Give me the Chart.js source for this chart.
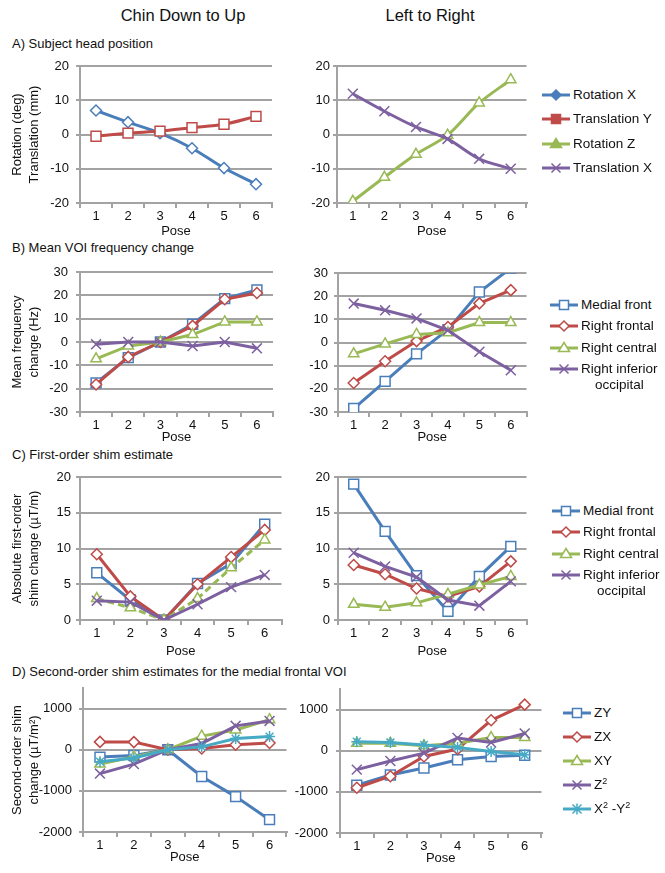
<!DOCTYPE html>
<html lang="en">
<head>
<meta charset="UTF-8">
<title>Head position and shim changes</title>
<script src="https://cdn.jsdelivr.net/npm/chart.js"></script>
<style>
  body { margin: 0; background: #fff; font-family: 'Liberation Sans', Arial, sans-serif; color: #111; }
  #page { position: relative; width: 665px; height: 873px; overflow: hidden; }
  #page canvas.chart { position: absolute; }
  .txt { position: absolute; white-space: nowrap; }
  .col-title { font-size: 16.5px; top: 6px; transform: translateX(-50%); }
  .panel-title { font-size: 13px; left: 12px; line-height: 16px; }
  .legend { position: absolute; font-size: 13.5px; }
  .legend .item { position: absolute; left: 0; white-space: nowrap; line-height: 16px; }
  .legend .item canvas { vertical-align: top; margin-top: 1px; margin-right: 3px; }
  .legend .item span { display: inline-block; vertical-align: top; text-align: center; }
  sup { font-size: 9px; vertical-align: 5px; line-height: 0; }
</style>
</head>
<body>
<div id="page">
  <div class="txt col-title" style="left:183px">Chin Down to Up</div>
  <div class="txt col-title" style="left:430px">Left to Right</div>

  <div class="txt panel-title" style="top:36px">A) Subject head position</div>
  <div class="txt panel-title" style="top:240px">B) Mean VOI frequency change</div>
  <div class="txt panel-title" style="top:447px">C) First-order shim estimate</div>
  <div class="txt panel-title" style="top:664px">D) Second-order shim estimates for the medial frontal VOI</div>

  <canvas class="chart" id="aLeft" width="290" style="left:0"></canvas>
  <canvas class="chart" id="aRight" width="245" style="left:290px"></canvas>
  <canvas class="chart" id="bLeft" width="290" style="left:0"></canvas>
  <canvas class="chart" id="bRight" width="245" style="left:290px"></canvas>
  <canvas class="chart" id="cLeft" width="290" style="left:0"></canvas>
  <canvas class="chart" id="cRight" width="245" style="left:290px"></canvas>
  <canvas class="chart" id="dLeft" width="295" style="left:0"></canvas>
  <canvas class="chart" id="dRight" width="255" style="left:295px"></canvas>

  <div class="legend" id="legA" style="left:542px;top:87px"></div>
  <div class="legend" id="legB" style="left:550px;top:297px"></div>
  <div class="legend" id="legC" style="left:552px;top:503px"></div>
  <div class="legend" id="legD" style="left:563px;top:705px"></div>
</div>

<script>
// categories
const poses = ['1', '2', '3', '4', '5', '6'];

// A) subject head position (deg / mm)
const chinRotationX = [7.0, 3.6, 0.4, -4.0, -9.8, -14.5];
const chinTranslationY = [-0.5, 0.4, 1.0, 2.0, 3.0, 5.3];
const lrRotationZ = [-19.5, -12.5, -5.8, -0.2, 9.2, 16.0];
const lrTranslationX = [11.9, 6.8, 2.2, -1.3, -7.1, -10.0];

// B) mean VOI frequency change (Hz)
const chinFreqMedial = [-17.5, -6.7, 0, 7.6, 18.6, 22.3];
const chinFreqFrontal = [-18.2, -6.4, 0, 6.9, 18.3, 21.0];
const chinFreqCentral = [-7.2, -1.7, 0, 3.2, 8.6, 8.6];
const chinFreqOccipital = [-1.0, 0, 0, -1.7, 0, -2.7];
const lrFreqMedial = [-28.5, -16.8, -4.9, 5.5, 21.8, 32.1];
const lrFreqFrontal = [-17.5, -8.1, 0.6, 6.7, 16.9, 22.6];
const lrFreqCentral = [-4.9, -0.6, 3.5, 4.2, 8.6, 8.6];
const lrFreqOccipital = [16.8, 13.9, 10.4, 5.3, -4.0, -12.0];

// C) absolute first-order shim change (uT/m)
const chinShim1Medial = [6.6, 2.8, 0, 5.1, 7.9, 13.4];
const chinShim1Frontal = [9.2, 3.3, 0, 5.0, 8.8, 12.6];
const chinShim1Central = [3.0, 1.7, 0, 3.0, 7.3, 11.2];
const chinShim1Occipital = [2.7, 2.5, 0, 2.2, 4.6, 6.3];
const lrShim1Medial = [19.0, 12.4, 6.2, 1.2, 6.1, 10.3];
const lrShim1Frontal = [7.7, 6.4, 4.4, 3.3, 4.7, 8.2];
const lrShim1Central = [2.2, 1.8, 2.4, 3.6, 4.9, 6.1];
const lrShim1Occipital = [9.4, 7.5, 6.0, 2.8, 2.0, 5.4];

// D) second-order shim change, medial frontal VOI (uT/m^2)
const shim2Ticks = [-2000, -1000, 0, 1000];
const chinZY = [-180, -140, 0, -650, -1140, -1700];
const chinZX = [190, 185, 0, 30, 120, 165];
const chinXY = [-350, -170, 0, 330, 480, 730];
const chinZ2 = [-580, -350, 0, 150, 580, 700];
const chinX2Y2 = [-290, -200, 0, 70, 270, 320];
const lrZY = [-840, -590, -420, -220, -140, -110];
const lrZX = [-900, -620, -140, 40, 740, 1120];
const lrXY = [180, 180, 120, 180, 320, 320];
const lrZ2 = [-460, -250, -60, 310, 200, 420];
const lrX2Y2 = [220, 200, 140, 80, -20, -100];

const BLUE = '#4a7ebb', RED = '#be4b48', GREEN = '#98b954', PURPLE = '#7d60a0', CYAN = '#46aac5';
const GRID = '#a3a3a3';
const FONT = "'Liberation Sans', Arial, sans-serif";
const radius = { rect: 7, rectRot: 5.5, triangle: 6, crossRot: 7, star: 5.5 };

function series(label, data, color, pointStyle, extra) {
    return Object.assign({
        label: label,
        data: data,
        borderColor: color,
        backgroundColor: color,
        borderWidth: 3,
        pointStyle: pointStyle,
        pointRadius: radius[pointStyle],
        pointBorderColor: color,
        pointBackgroundColor: '#fff',
        pointBorderWidth: 1.5,
        tension: 0
    }, extra || {});
}

function panel(id, datasets, o) {
    // later series drawn on top, like the original
    datasets.forEach((d, i) => { d.order = datasets.length - i; });

    // the y scale reserves half a label height + tick padding above the plot
    const xHeight = o.xHeight || 38;
    const topPad = Math.ceil(7.8 + o.tickPad);
    const cv = document.getElementById(id);
    cv.style.top = (o.plotTop - topPad) + 'px';
    cv.height = topPad + (o.plotBottom - o.plotTop) + xHeight;

    const yScale = {
        min: o.min,
        max: o.max,
        ticks: {
            stepSize: o.step,
            font: { family: FONT, size: 13 },
            color: '#111',
            padding: o.tickPad,
            callback: v => String(v)
        },
        grid: { color: GRID, lineWidth: 2, tickLength: 4 },
        border: { color: GRID, width: 2 },
        title: o.yTitle
            ? { display: true, text: o.yTitle, font: { family: FONT, size: 13, lineHeight: 1.3 },
                color: '#111', padding: { top: 9, bottom: 0 } }
            : { display: false },
        afterFit: s => { s.width = o.yWidth; }
    };
    if (o.tickValues) {
        yScale.afterBuildTicks = s => { s.ticks = o.tickValues.map(v => ({ value: v })); };
    }
    return new Chart(cv, {
        type: 'line',
        data: { labels: poses, datasets: datasets },
        options: {
            responsive: false,
            animation: false,
            events: [],
            layout: { padding: { top: topPad, right: o.padRight, left: 0, bottom: 0 } },
            plugins: { legend: { display: false }, tooltip: { enabled: false } },
            scales: {
                x: {
                    offset: true,
                    grid: { display: true, drawOnChartArea: false, offset: true, tickLength: 5, color: GRID, lineWidth: 2 },
                    border: { color: GRID, width: 2 },
                    ticks: { font: { family: FONT, size: 13 }, color: '#111', padding: 1, maxRotation: 0 },
                    title: { display: true, text: 'Pose', font: { family: FONT, size: 13 }, color: '#111',
                             padding: { top: 0, bottom: o.poseBottom } },
                    afterFit: s => { s.height = xHeight; }
                },
                y: yScale
            }
        }
    });
}

// A
const smooth = { tension: 0.3 };
panel('aLeft', [
    series('Rotation X', chinRotationX, BLUE, 'rectRot', smooth),
    series('Translation Y', chinTranslationY, RED, 'rect', smooth)
], { min: -20, max: 20, step: 10, plotTop: 66, plotBottom: 203, yWidth: 80, padRight: 18, tickPad: 7, poseBottom: 2,
     yTitle: ['Rotation (deg)', 'Translation (mm)'] });
panel('aRight', [
    series('Rotation Z', lrRotationZ, GREEN, 'triangle', smooth),
    series('Translation X', lrTranslationX, PURPLE, 'crossRot', smooth)
], { min: -20, max: 20, step: 10, plotTop: 66, plotBottom: 203, yWidth: 47, padRight: 6, tickPad: 3, poseBottom: 2 });

// B
panel('bLeft', [
    series('Medial front', chinFreqMedial, BLUE, 'rect'),
    series('Right frontal', chinFreqFrontal, RED, 'rectRot'),
    series('Right central', chinFreqCentral, GREEN, 'triangle'),
    series('Right inferior occipital', chinFreqOccipital, PURPLE, 'crossRot')
], { min: -30, max: 30, step: 10, plotTop: 272, plotBottom: 412, yWidth: 80, padRight: 17, tickPad: 8, poseBottom: 5,
     yTitle: ['Mean frequency', 'change (Hz)'] });
panel('bRight', [
    series('Medial front', lrFreqMedial, BLUE, 'rect'),
    series('Right frontal', lrFreqFrontal, RED, 'rectRot'),
    series('Right central', lrFreqCentral, GREEN, 'triangle'),
    series('Right inferior occipital', lrFreqOccipital, PURPLE, 'crossRot')
], { min: -30, max: 30, step: 10, plotTop: 273, plotBottom: 412, yWidth: 48, padRight: 5, tickPad: 6, poseBottom: 5 });

// C
panel('cLeft', [
    series('Medial front', chinShim1Medial, BLUE, 'rect'),
    series('Right frontal', chinShim1Frontal, RED, 'rectRot'),
    series('Right central', chinShim1Central, GREEN, 'triangle', { borderDash: [7, 4] }),
    series('Right inferior occipital', chinShim1Occipital, PURPLE, 'crossRot')
], { min: 0, max: 20, step: 5, plotTop: 477, plotBottom: 620, yWidth: 80, padRight: 8, tickPad: 5, poseBottom: 1, xHeight: 40,
     yTitle: ['Absolute first-order', 'shim change (\u00b5T/m)'] });
panel('cRight', [
    series('Medial front', lrShim1Medial, BLUE, 'rect'),
    series('Right frontal', lrShim1Frontal, RED, 'rectRot'),
    series('Right central', lrShim1Central, GREEN, 'triangle'),
    series('Right inferior occipital', lrShim1Occipital, PURPLE, 'crossRot')
], { min: 0, max: 20, step: 5, plotTop: 477, plotBottom: 620, yWidth: 48, padRight: 6, tickPad: 4, poseBottom: 1, xHeight: 40 });

// D
panel('dLeft', [
    series('ZY', chinZY, BLUE, 'rect'),
    series('ZX', chinZX, RED, 'rectRot'),
    series('XY', chinXY, GREEN, 'triangle'),
    series('Z\u00b2', chinZ2, PURPLE, 'crossRot'),
    series('X\u00b2 -Y\u00b2', chinX2Y2, CYAN, 'star')
], { min: -2000, max: 1500, step: 1000, tickValues: shim2Ticks, plotTop: 688, plotBottom: 832, yWidth: 83, padRight: 8,
     tickPad: 7, poseBottom: 5, yTitle: ['Second-order shim', 'change (\u00b5T/m\u00b2)'] });
panel('dRight', [
    series('ZY', lrZY, BLUE, 'rect'),
    series('ZX', lrZX, RED, 'rectRot'),
    series('XY', lrXY, GREEN, 'triangle'),
    series('Z\u00b2', lrZ2, PURPLE, 'crossRot'),
    series('X\u00b2 -Y\u00b2', lrX2Y2, CYAN, 'star')
], { min: -2000, max: 1500, step: 1000, tickValues: shim2Ticks, plotTop: 689, plotBottom: 833, yWidth: 45, padRight: 6,
     tickPad: 8, poseBottom: 5 });

// legends: small line + marker icon, then the label
function drawIcon(cv, color, style, filled) {
    const ctx = cv.getContext('2d');
    const w = cv.width, cy = cv.height / 2, cx = w / 2;
    ctx.strokeStyle = color;
    ctx.lineWidth = 3;
    ctx.beginPath(); ctx.moveTo(0, cy); ctx.lineTo(w, cy); ctx.stroke();
    ctx.lineWidth = 1.5;
    ctx.fillStyle = filled ? color : '#fff';
    ctx.beginPath();
    if (style === 'rect') {
        ctx.rect(cx - 4.5, cy - 4.5, 9, 9);
    } else if (style === 'rectRot') {
        ctx.moveTo(cx, cy - 5); ctx.lineTo(cx + 5, cy); ctx.lineTo(cx, cy + 5); ctx.lineTo(cx - 5, cy); ctx.closePath();
    } else if (style === 'triangle') {
        ctx.moveTo(cx, cy - 5.5); ctx.lineTo(cx + 5.5, cy + 3.5); ctx.lineTo(cx - 5.5, cy + 3.5); ctx.closePath();
    }
    if (style === 'rect' || style === 'rectRot' || style === 'triangle') {
        ctx.fill(); ctx.stroke();
        return;
    }
    ctx.moveTo(cx - 4.5, cy - 4.5); ctx.lineTo(cx + 4.5, cy + 4.5);
    ctx.moveTo(cx + 4.5, cy - 4.5); ctx.lineTo(cx - 4.5, cy + 4.5);
    if (style === 'star') {
        ctx.moveTo(cx, cy - 5.5); ctx.lineTo(cx, cy + 5.5);
        ctx.moveTo(cx - 5.5, cy); ctx.lineTo(cx + 5.5, cy);
    }
    ctx.stroke();
}

function legend(id, items, gap, filled) {
    const box = document.getElementById(id);
    items.forEach((it, i) => {
        const row = document.createElement('div');
        row.className = 'item';
        row.style.top = (i * gap) + 'px';
        const cv = document.createElement('canvas');
        cv.width = 28; cv.height = 14;
        drawIcon(cv, it[1], it[2], filled);
        const span = document.createElement('span');
        span.innerHTML = it[0];
        row.appendChild(cv);
        row.appendChild(span);
        box.appendChild(row);
    });
}

legend('legA', [
    ['Rotation X', BLUE, 'rectRot'],
    ['Translation Y', RED, 'rect'],
    ['Rotation Z', GREEN, 'triangle'],
    ['Translation X', PURPLE, 'crossRot']
], 24.4, true);

const voiItems = [
    ['Medial front', BLUE, 'rect'],
    ['Right frontal', RED, 'rectRot'],
    ['Right central', GREEN, 'triangle'],
    ['Right inferior<br>occipital', PURPLE, 'crossRot']
];
legend('legB', voiItems, 21.3, false);
legend('legC', voiItems, 21.3, false);

legend('legD', [
    ['ZY', BLUE, 'rect'],
    ['ZX', RED, 'rectRot'],
    ['XY', GREEN, 'triangle'],
    ['Z<sup>2</sup>', PURPLE, 'crossRot'],
    ['X<sup>2</sup> -Y<sup>2</sup>', CYAN, 'star']
], 24, false);
</script>
</body>
</html>
